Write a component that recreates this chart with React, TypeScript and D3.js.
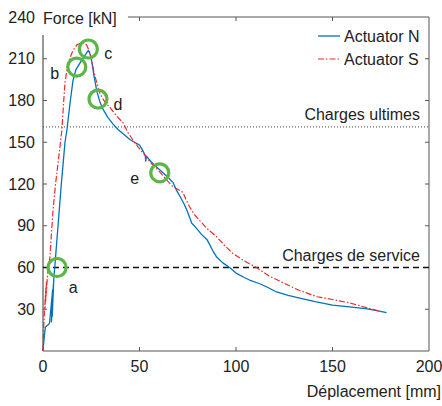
import * as d3 from "d3";

// displacement [mm], force [kN]
const actuatorN: [number, number][] = [
  [0, 0], [0.5, 8], [1.2, 17], [2.8, 19], [3.4, 20], [5, 44], [4.4, 21], [5.4, 48], [4.8, 25],
  [5.6, 52], [6.2, 62], [7.5, 85], [9.5, 120], [11.4, 150], [12.4, 159], [14, 178], [15.5, 194],
  [17, 202], [19.2, 207], [21, 211], [23.5, 216], [24.5, 213], [25.3, 208], [26.5, 197], [28, 186],
  [29.5, 179], [31, 174], [33.5, 168], [36.3, 163], [39, 159], [42, 155.5], [45, 152], [48, 149.5],
  [50, 148], [51.5, 144.5], [53, 140.5], [53.2, 136.5], [53.6, 140], [56, 136], [58.5, 132.5],
  [60.6, 130], [63, 127], [65, 124.5], [67.4, 121], [69, 116], [71, 111], [73, 106], [74.6, 101],
  [76, 96], [77, 92], [79, 89], [82, 84], [85, 80], [88, 72], [90, 67.5], [93, 63.5], [97, 59.6],
  [100, 56], [104, 53], [107, 51], [112, 48.5], [116, 46], [121, 42.4], [127, 40], [133, 38],
  [141, 35.5], [150, 33], [160, 31.5], [168, 30.2], [173, 29], [178, 27.5],
];

const actuatorS: [number, number][] = [
  [0, 0], [0.3, 15], [0.8, 30], [1.5, 45], [1.0, 30], [1.8, 50], [1.3, 35], [2.4, 55], [3, 62],
  [3.6, 67.5], [4.4, 85], [5.2, 101], [6.5, 120], [7.8, 135], [9.8, 159], [10.6, 177], [11.4, 193],
  [13, 207], [15.5, 216], [17.6, 220], [20, 221.5], [22.6, 220], [24.4, 214], [25.7, 205], [27, 197],
  [29.5, 185], [32, 179], [34.7, 175], [38, 169], [41.5, 164], [44, 157], [46.6, 151.6], [49, 147],
  [52, 142], [56, 135], [60.6, 128.6], [64, 123], [67.4, 118], [70, 116], [72.5, 114], [74, 109],
  [76, 103.5], [78.5, 98], [81, 94], [85, 88], [90, 82], [94, 76], [98.4, 70], [104, 65],
  [111, 59.6], [117, 54], [124.5, 49], [132, 44], [142, 39], [150, 37], [159, 34.5], [168, 31],
  [176, 28],
];

const xTicks = [0, 50, 100, 150, 200];
const yTicks = [30, 60, 90, 120, 150, 180, 210, 240];

const ultimateLoad = 161;
const serviceLoad = 60;

const markerNames = ["a", "b", "c", "d", "e"];
const markerPoints: [number, number][] = [[7.3, 60], [17.5, 204], [23.5, 217], [28.5, 181], [60.5, 128]];

const W = 442;
const H = 406;
const FONT = "'Liberation Sans', Arial, sans-serif";

export default function App() {
  const x = d3.scaleLinear().domain([0, 200]).range([43, 429]);
  const y = d3.scaleLinear().domain([0, 240]).range([351, 17]);
  const line = d3.line<[number, number]>().x(d => x(d[0])).y(d => y(d[1]));

  const axisColor = "#555";
  const blue = "#0072BD";
  const red = "#f0282d";
  const green = "#5cb646";

  // where each marker letter sits relative to its circle
  const labelOffset: Record<string, [number, number]> = {
    a: [16, 20], b: [-22, 6], c: [20, 4], d: [20, 5], e: [-25, 6],
  };

  const [x0, x1] = x.range();
  const [y0, y1] = y.range();

  return (
    <svg width={W} height={H} style={{ position: "absolute", left: 0, top: 0, background: "#fff" }}
      fontFamily={FONT} fontSize={16} fill="#222">
      {/* frame, top-left corner left open for the title */}
      <g stroke={axisColor} strokeWidth={1} fill="none">
        <line x1={x0} x2={x0} y1={35} y2={y0} stroke="#777" strokeWidth={1.5} />
        <line x1={x0} x2={x1} y1={y0} y2={y0} />
        <line x1={x1} x2={x1} y1={y1} y2={y0} />
        <line x1={128} x2={x1} y1={y1} y2={y1} />
        {xTicks.slice(1, -1).map(t => (
          <g key={t}>
            <line x1={x(t)} x2={x(t)} y1={y0} y2={y0 - 4} />
            <line x1={x(t)} x2={x(t)} y1={y1} y2={y1 + 4} />
          </g>
        ))}
        {yTicks.slice(0, -1).map(t => (
          <g key={t}>
            <line x1={x0} x2={x0 + 4} y1={y(t)} y2={y(t)} />
            <line x1={x1} x2={x1 - 4} y1={y(t)} y2={y(t)} />
          </g>
        ))}
      </g>
      {xTicks.map(t => (
        <text key={t} x={x(t)} y={372} textAnchor="middle">{t}</text>
      ))}
      {yTicks.map(t => (
        <text key={t} x={35} y={y(t)} dy="0.35em" textAnchor="end">{t}</text>
      ))}
      <text x={43} y={24}>Force [kN]</text>
      <text x={441} y={397} textAnchor="end">Déplacement [mm]</text>

      {/* reference loads */}
      <line x1={x0} x2={x1} y1={y(ultimateLoad)} y2={y(ultimateLoad)} stroke="#444" strokeWidth={1}
        strokeDasharray="1,2" />
      <text x={420} y={y(ultimateLoad) - 7} textAnchor="end">Charges ultimes</text>
      <line x1={x0} x2={x1} y1={y(serviceLoad)} y2={y(serviceLoad)} stroke="#111" strokeWidth={1.3}
        strokeDasharray="6,4" />
      <text x={420} y={y(serviceLoad) - 7} textAnchor="end">Charges de service</text>

      {/* curves */}
      <path d={line(actuatorN) ?? ""} fill="none" stroke={blue} strokeWidth={1.3} strokeLinejoin="round" />
      <path d={line(actuatorS) ?? ""} fill="none" stroke={red} strokeWidth={1.2} strokeDasharray="6,2,1.5,2" />

      {/* markers */}
      {markerPoints.map((p, i) => {
        const name = markerNames[i];
        const [dx, dy] = labelOffset[name];
        return (
          <g key={name}>
            <circle cx={x(p[0])} cy={y(p[1])} r={9} fill="none" stroke={green} strokeWidth={3.2} />
            <text x={x(p[0]) + dx} y={y(p[1]) + dy} dy="0.35em" textAnchor="middle">{name}</text>
          </g>
        );
      })}

      {/* legend */}
      <line x1={318} x2={340} y1={36} y2={36} stroke={blue} strokeWidth={1.3} />
      <text x={344} y={42}>Actuator N</text>
      <line x1={318} x2={340} y1={59} y2={59} stroke={red} strokeWidth={1.2} strokeDasharray="6,2,1.5,2" />
      <text x={344} y={65}>Actuator S</text>
    </svg>
  );
}
